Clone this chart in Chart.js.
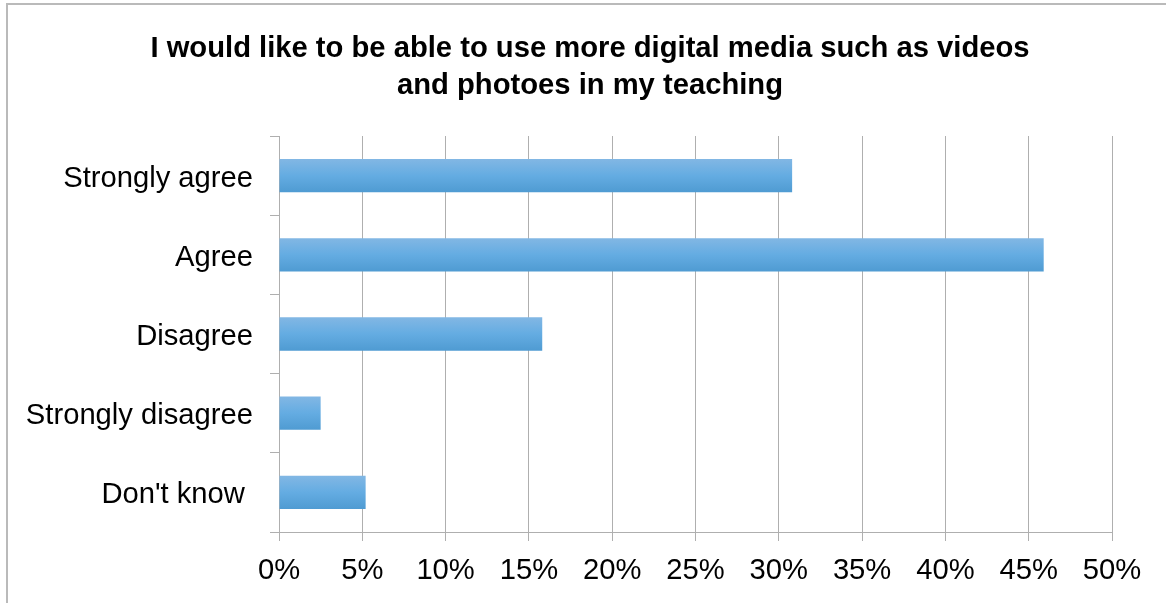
<!DOCTYPE html>
<html lang="en">
  <head>
    <meta charset="UTF-8" />
    <title>Digital media in teaching</title>
    <style>
      * {
        margin: 0;
        padding: 0;
        box-sizing: border-box;
      }
      body {
        width: 1166px;
        height: 603px;
        overflow: hidden;
        background: white;
        position: relative;
        font-family: 'Liberation Sans', Arial, sans-serif;
      }
      .frame {
        position: absolute;
        left: 6px;
        top: 3px;
        width: 1300px;
        height: 700px;
        border: 2px solid #bababa;
      }
      .chart-box {
        position: absolute;
        left: 0;
        top: 0;
        width: 1166px;
        height: 603px;
      }
      h1 {
        position: absolute;
        left: 0;
        top: 29px;
        width: 1180px;
        text-align: center;
        font-size: 29.2px;
        line-height: 37px;
        font-weight: bold;
        color: #000;
      }
    </style>
    <script src="https://cdn.jsdelivr.net/npm/chart.js"></script>
  </head>
  <body>
    <div class="frame"></div>
    <div class="chart-box">
      <canvas id="mediaChart"></canvas>
    </div>
    <h1 id="chartTitle"></h1>
    <script>
      // values (share of answers, %)
      const categories = ["Strongly agree", "Agree", "Disagree", "Strongly disagree", "Don't know "];
      const shares = [30.8, 45.9, 15.8, 2.5, 5.2];
      const titleLines = [
        "I would like to be able to use more digital media such as videos",
        "and photoes in my teaching",
      ];
      const xMax = 50;
      const xStep = 5;

      const fontFamily = "'Liberation Sans', Arial, sans-serif";
      const gridColor = "#afafaf";

      const titleEl = document.getElementById("chartTitle");
      titleLines.forEach((line, i) => {
        if (i > 0) titleEl.appendChild(document.createElement("br"));
        titleEl.appendChild(document.createTextNode(line));
      });

      function barGradient(ctx) {
        const chart = ctx.chart;
        const yScale = chart.scales.y;
        if (!yScale || ctx.dataIndex === undefined) return "#65aee3";
        const center = yScale.getPixelForValue(ctx.dataIndex);
        const half = (yScale.height / categories.length) * 0.42 / 2;
        if (!isFinite(center) || !isFinite(half) || half <= 0) return "#65aee3";
        const g = chart.ctx.createLinearGradient(0, center - half, 0, center + half);
        g.addColorStop(0, "#82b7e4");
        g.addColorStop(0.5, "#64ace2");
        g.addColorStop(1, "#4f9bd2");
        return g;
      }

      new Chart(document.getElementById("mediaChart"), {
        type: "bar",
        data: {
          labels: categories,
          datasets: [{
            data: shares,
            backgroundColor: barGradient,
            borderWidth: 0,
            barPercentage: 0.42,
            categoryPercentage: 1,
          }],
        },
        options: {
          indexAxis: "y",
          responsive: true,
          maintainAspectRatio: false,
          animation: false,
          layout: { padding: { left: 14, right: 54, top: 136, bottom: 0 } },
          plugins: {
            legend: { display: false },
            tooltip: { enabled: false },
            title: { display: false },
          },
          scales: {
            x: {
              min: 0,
              max: xMax,
              ticks: {
                stepSize: xStep,
                color: "#000",
                padding: 12,
                font: { family: fontFamily, size: 29.2 },
                callback: (v) => v + "%",
              },
              grid: { color: gridColor, lineWidth: 1, tickLength: 9 },
              border: { color: gridColor, width: 1 },
              afterFit: (scale) => { scale.height = 71; },
            },
            y: {
              ticks: {
                color: "#000",
                padding: 17,
                labelOffset: 3,
                font: { family: fontFamily, size: 29.2 },
              },
              grid: { drawOnChartArea: false, color: gridColor, tickLength: 9, offset: true },
              border: { color: gridColor, width: 1 },
              afterFit: (scale) => { scale.width = 265; },
            },
          },
        },
      });
    </script>
  </body>
</html>
